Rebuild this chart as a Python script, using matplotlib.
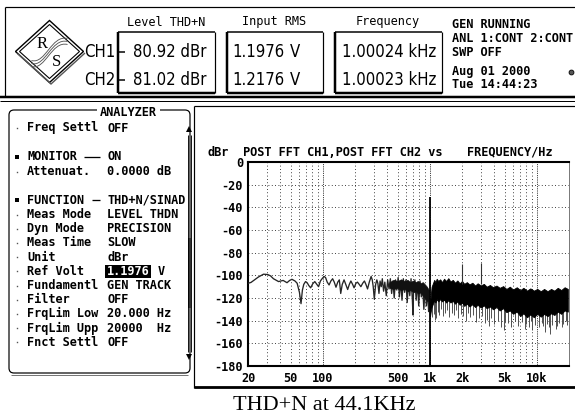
import os
import numpy as np
import matplotlib
matplotlib.use('Agg')
import matplotlib.pyplot as plt
from matplotlib import font_manager as fm
from matplotlib.patches import Rectangle, Polygon, FancyBboxPatch, PathPatch
from matplotlib.path import Path
from matplotlib.ticker import NullLocator

# ---------------- data ----------------
y_ticks = [0, -20, -40, -60, -80, -100, -120, -140, -160, -180]
y_tick_labels = ['0', '-20', '-40', '-60', '-80', '-100', '-120', '-140', '-160', '-180']
x_ticks = [20, 50, 100, 500, 1000, 2000, 5000, 10000]
x_tick_labels = ['20', '50', '100', '500', '1k', '2k', '5k', '10k']

# low / mid frequency trace (Hz, dBr)
lf_freq = [20, 21.3, 23, 25, 27.9, 30.6, 32.5, 34.6, 38.6, 42.6,
           46.3, 49, 51.5, 55, 57.6, 60.5, 62.6, 64.5, 66.4, 69,
           71.4, 74, 77, 80.5, 84.2, 88, 91.3, 95, 99.4, 103,
           106.2, 110, 114.5, 119, 123.6, 128, 132.8, 138, 142.7, 145,
           147.1, 152, 158, 164, 170.8, 177, 183, 190, 196, 204,
           211, 219, 227, 236, 245, 253, 262, 272, 283, 290,
           296, 303, 312, 320, 327, 335, 343, 352, 360, 370,
           380, 392, 404, 416, 428, 440, 452, 465, 478, 492,
           506, 520, 535, 550, 566, 582, 598, 615, 632, 650,
           668, 687, 696, 706, 726, 746, 767, 788, 810, 833,
           856, 880, 905, 930, 955, 975, 990]
lf_dbr = [-107, -106.3, -104, -101.5, -99, -99.3, -100.5, -103, -105.5, -104.5,
          -106.5, -104.5, -103.5, -105, -107, -115, -125, -113, -108, -105.5,
          -106.5, -109, -111, -107.5, -105.5, -108, -110, -105, -102.5, -101,
          -102, -106, -108.5, -105, -103, -106, -110.5, -106, -104, -110,
          -116, -108, -104, -108, -112.5, -108, -105, -108, -111, -107,
          -106, -108, -110, -107, -105, -108, -112, -106, -101, -104,
          -110, -121, -108, -104, -107, -116, -105, -110, -103, -114,
          -106, -118, -104, -112, -103, -116, -105, -120, -104, -113,
          -102, -119, -105, -122, -103, -115, -104, -124, -106, -118,
          -103, -121, -135, -110, -104, -122, -106, -127, -105, -119,
          -108, -130, -110, -127, -114, -132, -125]

# dense core of the trace below the fundamental
mid_freq = [420, 460, 500, 540, 580, 620, 660, 700, 740, 780, 820, 860, 900, 940, 980]
mid_hi = [-106, -104, -105, -103.5, -105, -104, -106, -104.5, -106, -105, -107, -106, -108, -110, -113]
mid_lo = [-111, -112, -111, -113, -112, -114, -113, -115, -114, -116, -115, -118, -120, -122, -124]

# dense noise band above the fundamental (envelope)
band_freq = [1005, 1020, 1040, 1060, 1080, 1100, 1130, 1160, 1200, 1250,
             1300, 1360, 1420, 1490, 1560, 1640, 1720, 1810, 1900, 2000,
             2100, 2220, 2350, 2500, 2650, 2800, 3000, 3200, 3400, 3650,
             3900, 4200, 4500, 4850, 5200, 5600, 6000, 6500, 7000, 7500,
             8100, 8700, 9400, 10100, 10900, 11700, 12600, 13600, 14600, 15700,
             16900, 18200, 19500]
band_hi = [-128, -118, -110, -108, -106, -104, -106, -103, -105, -103.5,
           -106, -103, -105, -102.5, -105.5, -104, -106.5, -104.5, -107, -105,
           -107.5, -106, -108, -106.5, -109, -107, -109, -107.5, -110, -108.5,
           -110.5, -109, -111, -109.5, -112, -110, -112.5, -110.5, -113, -111,
           -113.5, -111.5, -113.5, -112, -114, -112, -114, -112, -113.5, -111,
           -113, -110.5, -112]
band_lo = [-136, -132, -128, -126, -124, -122, -124, -121, -123, -121,
           -123, -121.5, -124, -122, -124, -122.5, -125, -123, -126, -124,
           -127, -125, -127.5, -125.5, -128, -126, -128.5, -126.5, -129, -127.5,
           -130, -128, -131, -129, -132.5, -131, -134, -132, -136, -133.5,
           -137, -134.5, -137, -134, -136.5, -134, -136, -133.5, -135, -132,
           -134, -131, -132]

# downward noise spikes
spike_freq = [1015, 1050, 1090, 1120, 1150, 1190, 1230, 1280, 1330, 1390,
              1450, 1520, 1600, 1680, 1760, 1850, 1950, 2050, 2160, 2280,
              2400, 2550, 2700, 2870, 3050, 3250, 3450, 3550, 3750, 4000,
              4300, 4650, 4950, 5050, 5400, 5800, 6200, 6700, 7200, 7700,
              8000, 8400, 8900, 9100, 9700, 10400, 11100, 11500, 12000, 12400,
              13000, 13400, 14000, 15000, 15400, 16200, 17200, 17700, 18600, 19200]
spike_dbr = [-130, -137, -134, -139, -138, -132, -135, -130, -136, -133,
             -131, -137, -133, -135, -131, -138, -134, -136, -140, -133,
             -137, -135, -141, -138, -136, -142, -139, -145, -138, -143,
             -140, -146, -148, -141, -142, -146, -140, -145, -141, -147,
             -143, -146, -140, -148, -144, -146, -142, -145, -150, -143,
             -146, -152, -144, -147, -145, -142, -146, -143, -140, -144]

harm_freq = [2000, 3000]
harm_dbr = [-90, -89.5]
fund_freq = 1000
fund_dbr = -31

menu_rows = [
    ('dot', 'Freq Settl', 'OFF'),
    ('sq', 'MONITOR', 'ON'),
    ('dot', 'Attenuat.', '0.0000 dB'),
    ('sq', 'FUNCTION', 'THD+N/SINAD'),
    ('dot', 'Meas Mode', 'LEVEL THDN'),
    ('dot', 'Dyn Mode', 'PRECISION'),
    ('dot', 'Meas Time', 'SLOW'),
    ('dot', 'Unit', 'dBr'),
    ('dot', 'Ref Volt', '1.1976'),
    ('dot', 'Fundamentl', 'GEN TRACK'),
    ('dot', 'Filter', 'OFF'),
    ('dot', 'FrqLim Low', '20.000 Hz'),
    ('dot', 'FrqLim Upp', '20000  Hz'),
    ('dot', 'Fnct Settl', 'OFF'),
]
menu_y = [128, 157, 171.5, 200, 214.5, 228.7, 242.9, 257.1, 271.3, 285.5,
          299.7, 313.9, 328.1, 342.3]

# ---------------- fonts ----------------
def find_condensed():
    files = [f.fname for f in fm.fontManager.ttflist]
    prefs = ['liberationsansnarrow-regular', 'dejavusanscondensed.ttf',
             'robotocondensed-regular', 'opensans_condensed-regular',
             'opensans-condensed']
    for p in prefs:
        for fn in files:
            if p in os.path.basename(fn).lower():
                return fn
    for fn in files:
        b = os.path.basename(fn).lower()
        if ('condensed' in b or 'narrow' in b) and not any(
                k in b for k in ('bold', 'italic', 'oblique', 'light', 'thin', 'black', 'medium', 'semi')):
            return fn
    return None

cond_file = find_condensed()
if cond_file:
    big_fp = fm.FontProperties(fname=cond_file, size=14)
else:
    big_fp = fm.FontProperties(family='DejaVu Sans', size=11)

MONO = 'DejaVu Sans Mono'
MS = 8.6
MM = 8.6
VX = 107

# ---------------- figure ----------------
W, H = 575, 418
fig = plt.figure(figsize=(W / 100, H / 100), dpi=100)
ax0 = fig.add_axes([0, 0, 1, 1])
ax0.set_xlim(0, W)
ax0.set_ylim(H, 0)
ax0.axis('off')

def px(v):
    return v * 0.72

def hline(x0, x1, y, lw=1, c='black'):
    ax0.plot([x0, x1], [y, y], color=c, lw=px(lw), solid_capstyle='butt')

def vline(x, y0, y1, lw=1, c='black'):
    ax0.plot([x, x], [y0, y1], color=c, lw=px(lw), solid_capstyle='butt')

def mono(x, y, s, bold=True, ha='left', size=MS, color='black', **kw):
    return ax0.text(x, y, s, family=MONO, fontweight='bold' if bold else 'normal',
                    fontsize=size, ha=ha, va='center', color=color, **kw)

# ---- top panel ----
hline(5, W, 7, 1.2)
vline(5, 7, 97, 1.2)
hline(0, W, 97, 2.5)
hline(0, W, 101, 1)

# logo
cx, cy, hw, hh = 49.5, 51.5, 34, 31
for off, lw in ((0, 1.4), (4, 1.1)):
    ax0.add_patch(Polygon([(cx - hw + off, cy), (cx, cy - hh + off), (cx + hw - off, cy),
                           (cx, cy + hh - off)], closed=True, fill=False, lw=px(lw), ec='black'))
ax0.add_patch(Polygon([(cx - hw + 2, cy + 2), (cx + 1.5, cy + hh + 1.5), (cx + hw + 1.5, cy + 1.5)],
                      closed=False, fill=False, lw=px(1.4), ec='#555555'))
for dy in (-3, 0, 3):
    verts = [(cx - 18, cy + 12 + dy), (cx - 4, cy + 16 + dy), (cx + 2, cy - 14 + dy), (cx + 18, cy - 10 + dy)]
    ax0.add_patch(PathPatch(Path(verts, [Path.MOVETO, Path.CURVE4, Path.CURVE4, Path.CURVE4]),
                            fill=False, lw=px(0.9), ec='#555555'))
ax0.text(cx - 7, cy - 8, 'R', family='Liberation Serif', fontsize=12, ha='center', va='center')
ax0.text(cx + 7, cy + 10, 'S', family='Liberation Serif', fontsize=12, ha='center', va='center')

# value boxes
def vbox(x0, y0, x1, y1):
    hline(x0, x1, y0, 1.5)
    vline(x1, y0, y1, 1.2)
    vline(x0, y0, y1, 2.5)
    hline(x0, x1, y1, 2.5)

vbox(118, 32, 215, 93)
vbox(227, 32, 323, 93)
vbox(335, 32, 442, 93)
hline(118, 125, 52, 1.5)
hline(118, 125, 80, 1.5)

mono(166, 22, 'Level THD+N', bold=False, ha='center')
mono(274, 22, 'Input RMS', bold=False, ha='center')
mono(388, 22, 'Frequency', bold=False, ha='center')

t_ref = ax0.text(133, 52, '80.92 dBr', fontproperties=big_fp, ha='left', va='center')
r = fig.canvas.get_renderer()
wpx = t_ref.get_window_extent(r).width
big_fp.set_size(big_fp.get_size() * 74.0 / wpx)
t_ref.set_fontproperties(big_fp)

def big(x, y, s, ha='left'):
    ax0.text(x, y, s, fontproperties=big_fp, ha=ha, va='center')

big(133, 80, '81.02 dBr')
big(115, 52, 'CH1', ha='right')
big(115, 80, 'CH2', ha='right')
big(232, 52, '1.1976')
big(232, 80, '1.2176')
big(290, 52, 'V')
big(290, 80, 'V')
big(342, 52, '1.00024 kHz')
big(342, 80, '1.00023 kHz')

mono(452, 25, 'GEN RUNNING')
mono(452, 39, 'ANL 1:CONT 2:CONT')
mono(452, 53, 'SWP OFF')
mono(452, 72, 'Aug 01 2000')
mono(452, 85, 'Tue 14:44:23')
ax0.plot([571], [72], marker='o', ms=3.5, mfc='#555555', mec='black', mew=0.6)

# ---- left panel ----
ax0.add_patch(FancyBboxPatch((9, 110), 181, 263, boxstyle='round,pad=0,rounding_size=5',
                             fill=False, lw=px(1.2), ec='black'))
hline(11, 188, 374.5, 1.0, c='#777777')
mono(100, 113, 'ANALYZER', size=MM, bbox=dict(fc='white', ec='none', pad=2.5))

for (kind, lab, val), yy in zip(menu_rows, menu_y):
    if kind == 'dot':
        ax0.plot([17], [yy], marker='s', ms=1.0, color='#555555', mew=0)
    else:
        ax0.plot([17], [yy], marker='s', ms=3.2, color='black', mew=0)
    mono(27, yy, lab, size=MM)
    if lab == 'MONITOR':
        hline(84, 100, yy, 1.3)
    if lab == 'FUNCTION':
        hline(92, 100, yy, 1.3)
    if lab == 'Ref Volt':
        ax0.add_patch(Rectangle((VX - 2, yy - 6.5), 46, 13, fc='black', ec='none'))
        mono(VX, yy, val, size=MM, color='white')
        mono(VX + 7 * 7.2, yy, 'V', size=MM)
    else:
        mono(VX, yy, val, size=MM)

# scrollbar
ax0.plot([189], [129], marker='^', ms=4, color='black', mew=0)
ax0.plot([189], [357], marker='v', ms=4, color='black', mew=0)
vline(187.5, 135, 352, 0.9)
vline(190.5, 135, 352, 0.9)
ax0.add_patch(Rectangle((187.5, 238), 3.0, 70, fc='#333333', ec='none'))

# ---- chart panel ----
vline(194, 106, 388, 1.2)
hline(194, W, 106, 1.2)
hline(194, W, 387, 2.8)

mono(207, 152, 'dBr')
mono(243, 152, 'POST FFT CH1,POST FFT CH2 vs')
mono(467, 152, 'FREQUENCY/Hz')

# caption
ax0.text(324, 406, 'THD+N at 44.1KHz', family='Liberation Serif', fontsize=16,
         ha='center', va='center')

# ---- chart axes ----
L, R, T, B = 248, 569, 162, 366
ax = fig.add_axes([L / W, 1 - B / H, (R - L) / W, (B - T) / H])
ax.set_facecolor('none')
ax.set_xscale('log')
ax.set_xlim(20, 20000)
ax.set_ylim(-180, 0)

for d in (10, 100, 1000, 10000):
    for m in range(1, 10):
        f = m * d
        if 20 < f < 20000:
            if m == 1:
                ax.axvline(f, color='black', lw=0.6, ls=(0, (1, 1.2)), zorder=1)
            else:
                ax.axvline(f, color='black', lw=0.6, ls=(0, (1, 3)), zorder=1)
for yv in y_ticks[1:-1]:
    ax.axhline(yv, color='black', lw=0.6, ls=(0, (1, 3)), zorder=1)

ax.plot(lf_freq, lf_dbr, color='#252525', lw=0.95, zorder=3)
ax.fill_between(mid_freq, mid_lo, mid_hi, color='#111111', lw=0.5, zorder=3)
ax.vlines(spike_freq, spike_dbr, -120, color='#505050', lw=0.7, zorder=3)
ax.fill_between(band_freq, band_lo, band_hi, color='black', lw=0.6, zorder=3)
ax.vlines(harm_freq, harm_dbr, -108, color='#333333', lw=0.8, zorder=3)
ax.vlines([fund_freq], [-180], [fund_dbr], color='black', lw=1.3, zorder=4)

ax.set_xticks(x_ticks)
ax.set_xticklabels(x_tick_labels)
ax.xaxis.set_minor_locator(NullLocator())
ax.set_yticks(y_ticks)
ax.set_yticklabels(y_tick_labels)
ax.tick_params(length=0, pad=3.6)
ax.tick_params(axis='x', pad=4.5)
for lbl in ax.get_xticklabels() + ax.get_yticklabels():
    lbl.set_family(MONO)
    lbl.set_fontweight('bold')
    lbl.set_fontsize(MS)

for s in ('left', 'top', 'bottom'):
    ax.spines[s].set_linewidth(1.5)
    ax.spines[s].set_color('black')
ax.spines['right'].set_linewidth(0.7)
ax.spines['right'].set_color('#777777')

fig.savefig('out.png', dpi=100)
